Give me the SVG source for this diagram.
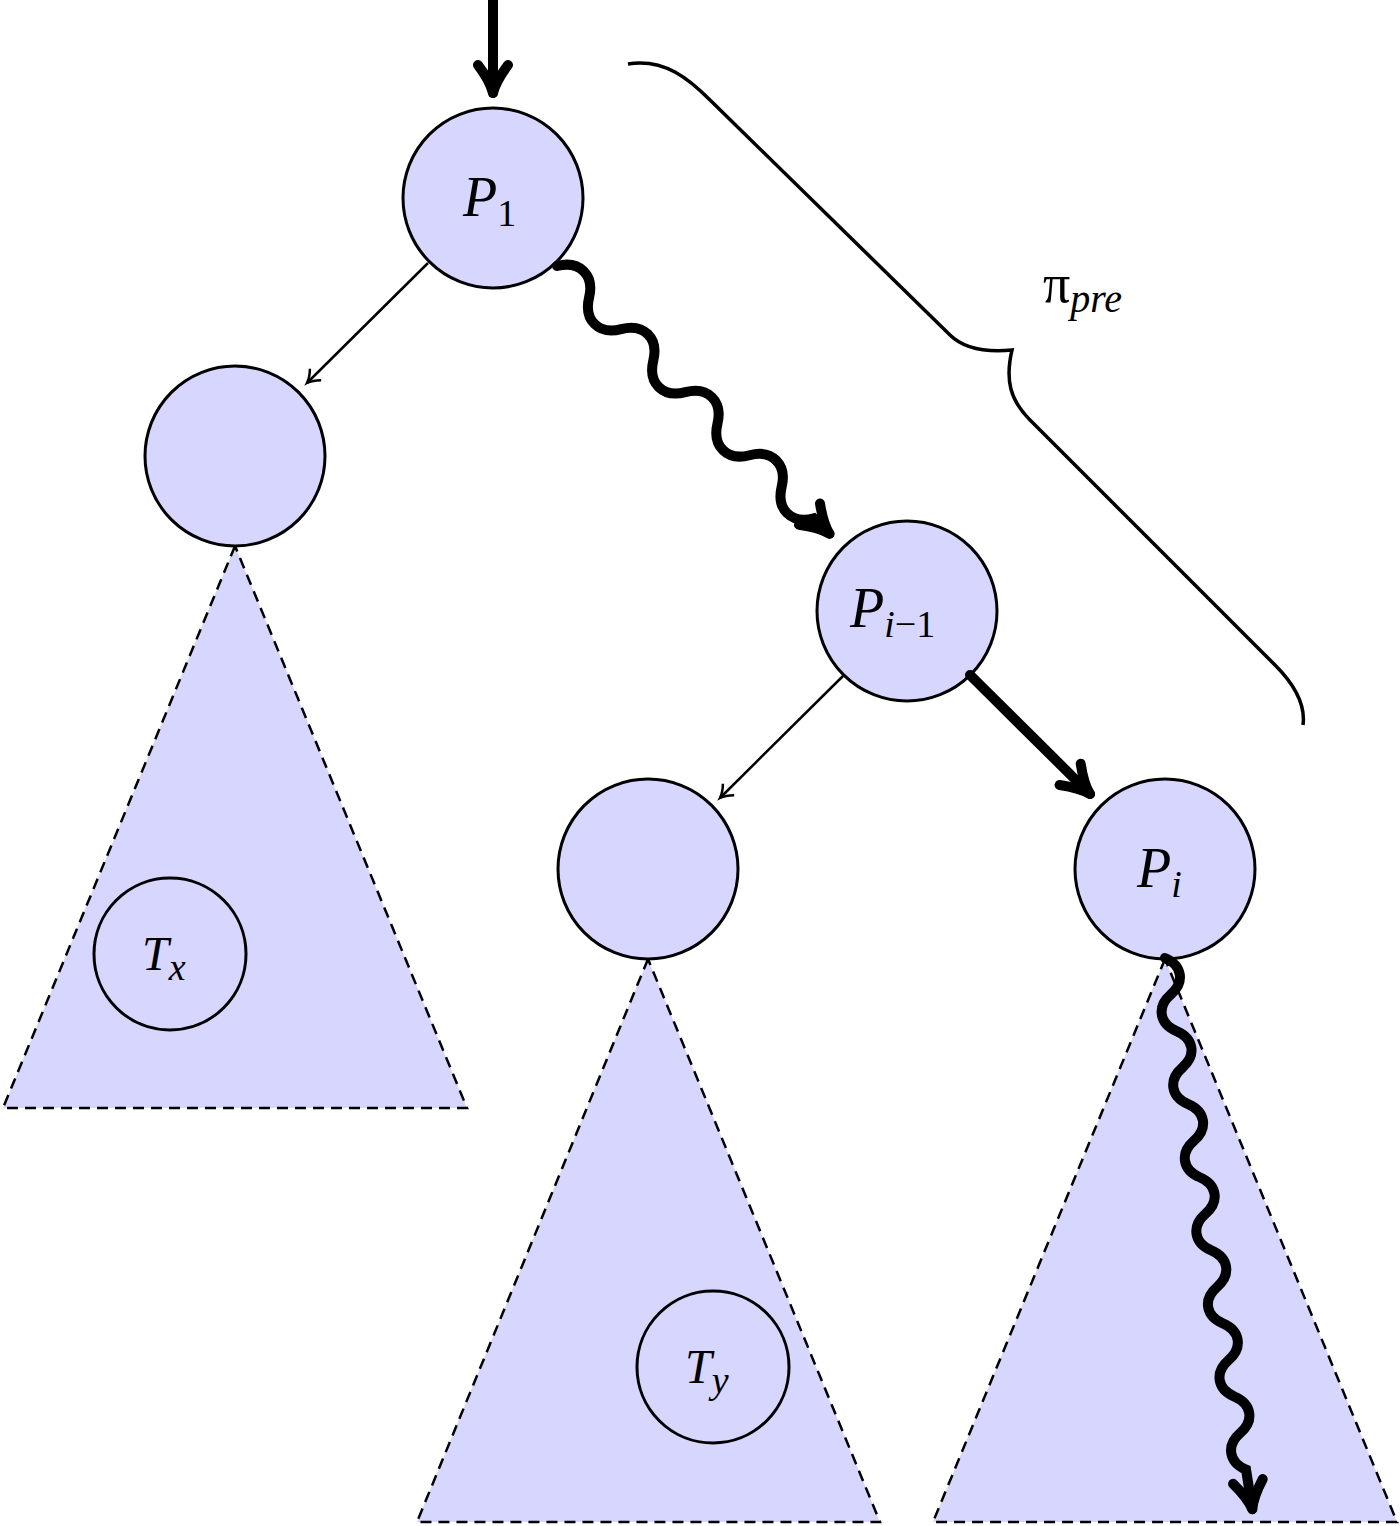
<svg xmlns="http://www.w3.org/2000/svg" width="1400" height="1526" viewBox="0 0 1400 1526">
<style>
.n{fill:#d6d6ff;stroke:#000;stroke-width:3}
.t{fill:#d6d6ff;stroke:#000;stroke-width:2.5;stroke-dasharray:11 7}
.lab{font-family:"Liberation Serif","Times New Roman",serif;font-size:56px;font-style:italic}
.sub{font-size:38px}
.up{font-style:normal}
.thin{fill:none;stroke:#000;stroke-width:2.5}
.brace{fill:none;stroke:#000;stroke-width:3.5}
.thick{fill:none;stroke:#000;stroke-width:10;stroke-linecap:round}
</style>
<defs>
<marker id="open" markerWidth="20" markerHeight="20" refX="16" refY="10" orient="auto" markerUnits="userSpaceOnUse">
<path d="M4,2 Q10,8 16,10 Q10,12 4,18" fill="none" stroke="#000" stroke-width="2.5"/>
</marker>
<marker id="big" markerWidth="50" markerHeight="50" refX="40" refY="25" orient="auto" markerUnits="userSpaceOnUse">
<path d="M12,10 Q28,22 40,25 Q28,28 12,40" fill="none" stroke="#000" stroke-width="10" stroke-linecap="round" stroke-linejoin="round"/>
</marker>
</defs>
<g id="tri1"><polygon class="t" points="235,546 3,1108 467,1108"/></g>
<g id="tri2"><polygon class="t" points="648,959 417,1522 880,1522"/></g>
<g id="tri3"><polygon class="t" points="1165,959 933,1522 1397,1522"/></g>
<g id="P1"><circle class="n" cx="493" cy="198" r="90"/><text class="lab" x="463" y="216">P<tspan class="sub up" dy="10">1</tspan></text></g>
<g id="L1"><circle class="n" cx="235" cy="456" r="90"/></g>
<g id="Pim1"><circle class="n" cx="907" cy="611" r="90"/><text class="lab" x="850" y="627">P<tspan class="sub" dy="10">i</tspan><tspan class="sub up">−1</tspan></text></g>
<g id="L2"><circle class="n" cx="648" cy="869" r="90"/></g>
<g id="Pi"><circle class="n" cx="1165" cy="869" r="90"/><text class="lab" x="1137" y="887">P<tspan class="sub" dy="10">i</tspan></text></g>
<g id="Tx"><circle class="n" cx="170" cy="954" r="76"/><text class="lab" x="142" y="970" style="font-size:48px">T<tspan class="sub" dy="10">x</tspan></text></g>
<g id="Ty"><circle class="n" cx="713" cy="1367" r="76"/><text class="lab" x="685" y="1383" style="font-size:48px">T<tspan class="sub" dy="10">y</tspan></text></g>
<g id="brace"><path class="brace" d="M628,64 C665,58 690,80 710,100 L950,335 C965,350 990,352 1012,350 C1005,380 1010,400 1030,420 L1275,665 C1300,690 1305,710 1303,725"/>
<text x="1043" y="302" font-family="'Liberation Serif',serif" font-size="54">π<tspan font-style="italic" font-size="40" dy="10">pre</tspan></text></g>
<g id="connectors">
<line class="thin" x1="428" y1="263" x2="307" y2="383" marker-end="url(#open)"/>
<line class="thin" x1="843" y1="676" x2="720" y2="798" marker-end="url(#open)"/>
<line class="thick" x1="493" y1="0" x2="493" y2="93" marker-end="url(#big)"/>
<line class="thick" x1="970" y1="675" x2="1090" y2="794" marker-end="url(#big)"/>
<path class="thick" transform="translate(557,266) rotate(44.5)" d="M0,0 c12,-20 33,-20 45,0 c12,20 33,20 45,0 c12,-20 33,-20 45,0 c12,20 33,20 45,0 c12,-20 33,-20 45,0 c12,20 33,20 45,0 c12,-20 33,-20 45,0 c12,20 33,20 45,0 l22,0" marker-end="url(#big)"/>
<path class="thick" transform="translate(1165,958) rotate(81)" d="M0,0 c10,-16 27,-16 37,0 c10,16 27,16 37,0 c10,-16 27,-16 37,0 c10,16 27,16 37,0 c10,-16 27,-16 37,0 c10,16 27,16 37,0 c10,-16 27,-16 37,0 c10,16 27,16 37,0 c10,-16 27,-16 37,0 c10,16 27,16 37,0 c10,-16 27,-16 37,0 c10,16 27,16 37,0 c10,-16 27,-16 37,0 c10,16 27,16 37,0 l40,0" marker-end="url(#big)"/>
</g>
</svg>
